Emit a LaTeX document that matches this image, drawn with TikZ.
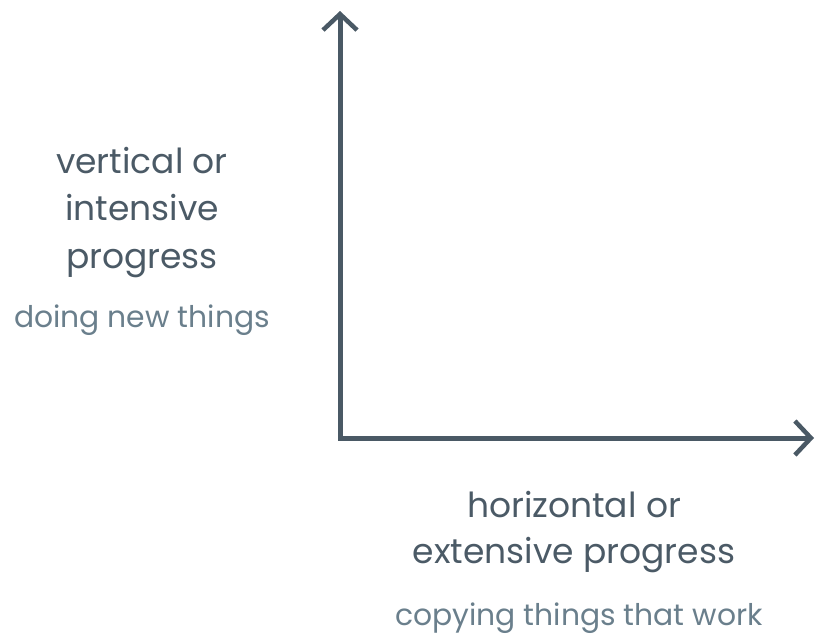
\documentclass[tikz,border=0pt]{standalone}
\usepackage{fontspec}
\setmainfont{Poppins}
\usetikzlibrary{arrows.meta}
\definecolor{axiscol}{HTML}{4A5965}
\definecolor{maincol}{HTML}{4B5A66}
\definecolor{subcol}{HTML}{6A7F8C}
\tikzset{
  axis/.style={draw=axiscol, line width=5pt, line join=miter, arrows={Straight Barb[length=16pt,width=34pt,line width=4.5pt]-Straight Barb[length=16pt,width=34pt,line width=4.5pt]}},
  head/.style={text=maincol, font=\fontsize{34.5}{47}\selectfont, align=center, anchor=base, inner sep=0pt},
  sub/.style={text=subcol, font=\fontsize{29.8}{34}\selectfont, anchor=base, inner sep=0pt}
}
\begin{document}
\begin{tikzpicture}[x=1pt,y=-1pt]
\useasboundingbox (0,0) rectangle (818,640);
\coordinate (ytip) at (340,11);
\coordinate (o) at (340,438);
\coordinate (xtip) at (814,438);
\draw[axis] (ytip) -- (o) -- (xtip);
\node[head] (vl1) at (142,173) {vertical or};
\node[head] (vl2) at (142,220) {intensive};
\node[head] (vl3) at (142,268) {progress};
\node[sub] (vs) at (142,327) {doing new things};
\node[head] (hl1) at (574,517) {horizontal or};
\node[head] (hl2) at (574,563) {extensive progress};
\node[sub] (hs) at (579,625) {copying things that work};
\end{tikzpicture}
\end{document}
